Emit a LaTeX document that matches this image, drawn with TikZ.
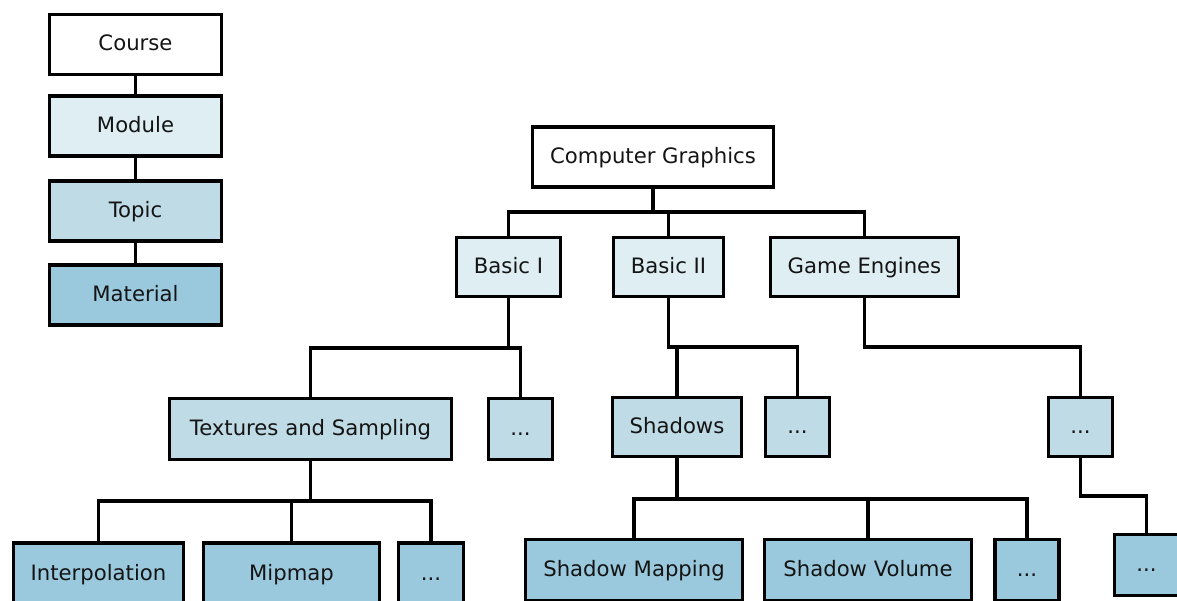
\documentclass[tikz,border=0pt]{standalone}
\usepackage{fontspec}
\setmainfont{DejaVu Sans}
\definecolor{cmod}{RGB}{223,238,243}
\definecolor{ctop}{RGB}{191,219,229}
\definecolor{cmat}{RGB}{154,201,221}
\begin{document}
\begin{tikzpicture}[x=1pt,y=-1pt,
  box/.style={draw=black, line width=3.3pt, inner sep=0pt,
    font=\fontsize{21.2}{25}\selectfont, text=black!92,
    text height=17pt, text depth=4pt},
  lvl0/.style={box, fill=white},
  lvl1/.style={box, fill=cmod},
  lvl2/.style={box, fill=ctop},
  lvl3/.style={box, fill=cmat},
  conn/.style={draw=black, line width=3.2pt}]
\useasboundingbox (0,0) rectangle (1177,601);
\clip (0,0) rectangle (1177,601);

% legend
\node[lvl0, minimum width=172pt, minimum height=60pt] (course)   at (135.5,44.5) {Course};
\node[lvl1, minimum width=172pt, minimum height=60pt] (module)   at (135.5,126)  {Module};
\node[lvl2, minimum width=172pt, minimum height=60pt] (topic)    at (135.5,211)  {Topic};
\node[lvl3, minimum width=172pt, minimum height=60pt] (material) at (135.5,295)  {Material};
\draw[conn] (course) -- (module);
\draw[conn] (module) -- (topic);
\draw[conn] (topic) -- (material);

% tree
\node[lvl0, minimum width=241pt, minimum height=60pt] (cg) at (653,157) {Computer Graphics};

\node[lvl1, minimum width=104pt, minimum height=59pt] (b1) at (508.5,267) {Basic I};
\node[lvl1, minimum width=110pt, minimum height=59pt] (b2) at (668.5,267) {Basic II};
\node[lvl1, minimum width=188pt, minimum height=59pt] (ge) at (864.5,267) {Game Engines};

\node[lvl2, minimum width=282pt, minimum height=61pt] (ts) at (310.5,429) {Textures and Sampling};
\node[lvl2, minimum width=64pt,  minimum height=61pt] (d1) at (520.5,429) {...};
\node[lvl2, minimum width=129pt, minimum height=59pt] (sh) at (677,427) {Shadows};
\node[lvl2, minimum width=64pt,  minimum height=59pt] (d2) at (797.5,427) {...};
\node[lvl2, minimum width=64pt,  minimum height=59pt] (d3) at (1080.5,427) {...};

\node[lvl3, minimum width=170pt, minimum height=61pt] (ip) at (98.5,573.5) {Interpolation};
\node[lvl3, minimum width=176pt, minimum height=61pt] (mm) at (291.5,573.5) {Mipmap};
\node[lvl3, minimum width=65pt,  minimum height=61pt] (d4) at (431,573.5) {...};
\node[lvl3, minimum width=217pt, minimum height=61pt] (sm) at (634,570) {Shadow Mapping};
\node[lvl3, minimum width=207pt, minimum height=61pt] (sv) at (868,570) {Shadow Volume};
\node[lvl3, minimum width=64pt,  minimum height=61pt] (d5) at (1027,570) {...};
\node[lvl3, minimum width=64pt,  minimum height=61pt] (d6) at (1146.5,565) {...};

% bar levels
\coordinate (y0) at (0,212);
\coordinate (y1) at (0,348);
\coordinate (y2) at (0,347);
\coordinate (y3) at (0,501);
\coordinate (y4) at (0,499);
\coordinate (y5) at (0,496);

\newcommand\treeedge[3]{\draw[conn] (#1.south) -- (#1.south |- #3) -| (#2.north);}
\treeedge{cg}{b1}{y0}
\treeedge{cg}{b2}{y0}
\treeedge{cg}{ge}{y0}
\treeedge{b1}{ts}{y1}
\treeedge{b1}{d1}{y1}
\treeedge{b2}{sh}{y2}
\treeedge{b2}{d2}{y2}
\treeedge{ge}{d3}{y2}
\treeedge{ts}{ip}{y3}
\treeedge{ts}{mm}{y3}
\treeedge{ts}{d4}{y3}
\treeedge{sh}{sm}{y4}
\treeedge{sh}{sv}{y4}
\treeedge{sh}{d5}{y4}
\treeedge{d3}{d6}{y5}
\end{tikzpicture}
\end{document}
